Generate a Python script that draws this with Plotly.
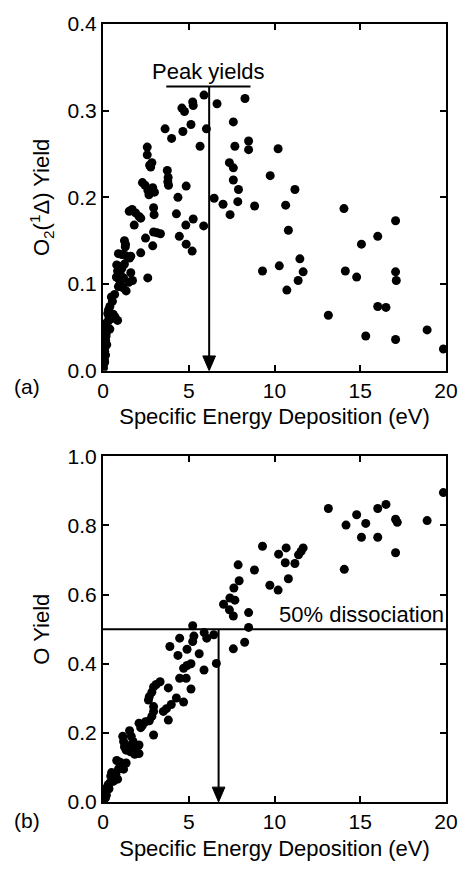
import plotly.graph_objects as go

# ---- (a) singlet oxygen yield vs. specific energy deposition ----
energy_a = [
    5.89, 6.65, 8.28, 5.23, 5.26, 4.60, 4.75, 5.13, 4.66, 6.03, 3.62, 4.00, 5.66, 7.60, 7.69,
    8.49, 8.49, 10.21, 7.37, 7.60, 7.60, 7.90, 9.75, 11.19,
    2.58, 2.58, 2.72, 2.85, 2.78, 3.75, 3.80, 3.82, 3.78,
    2.30, 2.45, 2.62, 2.90, 3.00, 2.68,
    4.37, 4.85, 6.48, 7.00, 7.86, 7.41, 8.84, 10.65, 14.05, 17.06, 16.02, 15.07, 10.81,
    11.48, 10.28, 9.30, 11.67, 11.38, 10.72, 14.13, 14.79, 17.06, 17.10, 13.14, 16.02,
    16.50, 15.32, 17.06, 18.90, 19.85,
    4.28, 5.26, 4.83, 5.87, 4.45, 4.85, 5.20,
    2.95, 3.15, 3.35, 2.95, 2.98, 2.90, 2.48, 2.20, 2.61,
    1.53, 1.70, 1.90, 2.10, 2.20, 1.82,
    1.25, 1.31, 1.30,
    0.90, 1.10, 1.30, 1.55, 1.62,
    0.80, 0.95, 1.10, 1.25, 1.62, 0.85, 1.00,
    0.78, 0.95, 1.20, 1.50, 1.72, 1.00, 1.15, 1.35, 0.90,
    0.68, 0.49, 0.55, 0.40, 0.32, 0.60, 0.85, 0.70, 0.50, 0.28,
    0.30, 0.25, 0.40, 0.20, 0.18, 0.15, 0.22, 0.12, 0.10, 0.15, 0.08, 0.05, 0.03, 0.10,
    0.20, 0.35,
]
yield_a = [
    0.318, 0.308, 0.314, 0.310, 0.306, 0.303, 0.299, 0.284, 0.276, 0.279, 0.279, 0.268, 0.259, 0.287, 0.259,
    0.265, 0.255, 0.256, 0.240, 0.234, 0.220, 0.209, 0.225, 0.209,
    0.258, 0.249, 0.237, 0.240, 0.235, 0.231, 0.223, 0.214, 0.218,
    0.217, 0.214, 0.208, 0.211, 0.206, 0.203,
    0.200, 0.213, 0.199, 0.192, 0.195, 0.180, 0.190, 0.191, 0.187, 0.173, 0.155, 0.146, 0.162,
    0.129, 0.121, 0.115, 0.114, 0.104, 0.093, 0.115, 0.108, 0.114, 0.104, 0.064, 0.074,
    0.073, 0.040, 0.036, 0.047, 0.025,
    0.181, 0.175, 0.168, 0.167, 0.155, 0.146, 0.138,
    0.160, 0.159, 0.158, 0.188, 0.180, 0.144, 0.153, 0.136, 0.107,
    0.184, 0.186, 0.182, 0.178, 0.176, 0.168,
    0.150, 0.146, 0.143,
    0.135, 0.134, 0.133, 0.130, 0.132,
    0.122, 0.120, 0.118, 0.123, 0.113, 0.115, 0.112,
    0.108, 0.105, 0.107, 0.102, 0.104, 0.100, 0.096, 0.092, 0.097,
    0.088, 0.085, 0.080, 0.074, 0.070, 0.065, 0.058, 0.062, 0.060, 0.066,
    0.057, 0.050, 0.048, 0.044, 0.040, 0.035, 0.030, 0.027, 0.022, 0.018, 0.013, 0.008, 0.003, 0.010,
    0.055, 0.062,
]

# ---- (b) atomic oxygen yield vs. specific energy deposition ----
energy_b = [
    19.85, 13.14, 14.17, 14.79, 15.32, 15.07, 16.02, 16.50, 16.02, 17.06, 17.16, 17.06, 18.90, 14.07,
    9.30, 10.24, 10.68, 10.63, 10.81, 9.73, 10.21, 11.19, 11.40, 11.55, 11.67, 8.83, 7.88, 7.94,
    7.63, 7.40, 7.69, 7.03, 7.37, 7.60, 8.49, 8.49, 8.26, 7.60,
    5.23, 4.47, 3.90, 5.23, 5.90, 6.05, 6.46, 6.61,
    4.90, 4.37, 5.61, 5.30,
    4.70, 4.90, 5.13, 5.89, 4.47, 4.85, 5.13, 3.81, 3.33,
    3.10, 2.95, 2.85, 2.70, 2.65, 4.28, 4.70, 3.98, 3.70, 3.52, 3.81,
    2.95, 2.95, 2.85, 2.70, 2.95,
    2.10, 2.30, 2.48, 2.20,
    1.55, 1.65, 1.75, 1.50, 1.90, 2.10, 1.60, 1.85, 2.10,
    1.15, 1.20, 1.25, 1.35,
    0.80, 1.00, 1.35, 1.15, 0.90, 1.20, 1.00,
    0.45, 0.65, 0.85, 0.60, 0.75,
    0.30, 0.20, 0.35, 0.10, 0.20, 0.05, 0.15, 0.40, 0.50,
]
yield_b = [
    0.895, 0.849, 0.801, 0.831, 0.806, 0.766, 0.849, 0.861, 0.766, 0.818, 0.809, 0.721, 0.814, 0.673,
    0.740, 0.717, 0.735, 0.692, 0.646, 0.627, 0.613, 0.690, 0.715, 0.725, 0.735, 0.671, 0.686, 0.640,
    0.619, 0.590, 0.584, 0.572, 0.556, 0.538, 0.548, 0.505, 0.462, 0.443,
    0.510, 0.474, 0.450, 0.464, 0.490, 0.474, 0.484, 0.401,
    0.442, 0.424, 0.429, 0.480,
    0.387, 0.395, 0.400, 0.382, 0.358, 0.358, 0.327, 0.330, 0.348,
    0.340, 0.333, 0.318, 0.305, 0.295, 0.301, 0.289, 0.282, 0.270, 0.262, 0.237,
    0.276, 0.262, 0.248, 0.235, 0.194,
    0.228, 0.222, 0.232, 0.215,
    0.206, 0.190, 0.175, 0.162, 0.158, 0.165, 0.145, 0.138, 0.140,
    0.190, 0.175, 0.160, 0.150,
    0.120, 0.115, 0.113, 0.105, 0.095, 0.095, 0.105,
    0.075, 0.070, 0.066, 0.060, 0.080,
    0.050, 0.040, 0.038, 0.025, 0.020, 0.008, 0.012, 0.055, 0.085,
]

# Guide annotations
peak_energy = 6.19          # energy of the peak O2(a) yield
peak_bar = [3.69, 8.60]     # extent of the peak-yield bar (eV)
peak_level = 0.328
half_energy = 6.74          # energy at 50 % dissociation
half_level = 0.5

FONT = "Liberation Sans, Arial, sans-serif"
FS = 22       # titles and annotations
TICK_FS = 21  # tick labels
BLACK = "black"

fig = go.Figure()
fig.add_trace(go.Scatter(x=energy_a, y=yield_a, mode="markers", xaxis="x", yaxis="y",
                         marker=dict(color=BLACK, size=9, line=dict(width=0)), showlegend=False))
fig.add_trace(go.Scatter(x=energy_b, y=yield_b, mode="markers", xaxis="x2", yaxis="y2",
                         marker=dict(color=BLACK, size=9, line=dict(width=0)), showlegend=False))

axis_common = dict(showline=True, linewidth=2, linecolor=BLACK, mirror="ticks",
                   ticks="inside", ticklen=6, tickwidth=2, tickcolor=BLACK,
                   showgrid=False, zeroline=False,
                   tickfont=dict(family=FONT, size=TICK_FS, color=BLACK))

xtitle = dict(text="Specific Energy Deposition (eV)", font=dict(family=FONT, size=FS, color=BLACK), standoff=8)

fig.update_layout(
    width=470, height=869,
    margin=dict(l=103, r=15, t=19, b=60),
    plot_bgcolor="white", paper_bgcolor="white",
    xaxis=dict(domain=[0, 1], anchor="y", range=[0, 20], tickvals=[0, 5, 10, 15, 20],
               title=xtitle, **axis_common),
    yaxis=dict(domain=[0.5544, 1], anchor="x", range=[0, 0.4], tickvals=[0, 0.1, 0.2, 0.3, 0.4],
               tickformat=".1f",
               title=dict(text="O<sub>2</sub>(<sup>1</sup>Δ) Yield",
                          font=dict(family=FONT, size=FS, color=BLACK), standoff=12),
               **axis_common),
    xaxis2=dict(domain=[0, 1], anchor="y2", range=[0, 20], tickvals=[0, 5, 10, 15, 20],
                title=xtitle, **axis_common),
    yaxis2=dict(domain=[0, 0.4443], anchor="x2", range=[0, 1.0], tickvals=[0, 0.2, 0.4, 0.6, 0.8, 1.0],
                tickformat=".1f",
                title=dict(text="O Yield", font=dict(family=FONT, size=FS, color=BLACK), standoff=12),
                **axis_common),
)

line_style = dict(color=BLACK, width=2)
head_w_a, head_h_a = 0.37, 0.017
head_w_b, head_h_b = 0.37, 0.043
fig.update_layout(shapes=[
    # (a) peak-yield bar and arrow
    dict(type="line", xref="x", yref="y", x0=peak_bar[0], x1=peak_bar[1], y0=peak_level, y1=peak_level, line=line_style),
    dict(type="line", xref="x", yref="y", x0=peak_energy, x1=peak_energy, y0=peak_level, y1=head_h_a, line=line_style),
    dict(type="path", xref="x", yref="y", fillcolor=BLACK, line=dict(color=BLACK, width=1),
         path=f"M {peak_energy - head_w_a},{head_h_a} L {peak_energy + head_w_a},{head_h_a} L {peak_energy},0 Z"),
    # (b) 50% dissociation line and arrow
    dict(type="line", xref="x2", yref="y2", x0=0, x1=20, y0=half_level, y1=half_level, line=line_style),
    dict(type="line", xref="x2", yref="y2", x0=half_energy, x1=half_energy, y0=half_level, y1=head_h_b, line=line_style),
    dict(type="path", xref="x2", yref="y2", fillcolor=BLACK, line=dict(color=BLACK, width=1),
         path=f"M {half_energy - head_w_b},{head_h_b} L {half_energy + head_w_b},{head_h_b} L {half_energy},0 Z"),
])

txt = dict(family=FONT, size=FS, color=BLACK)
fig.update_layout(annotations=[
    dict(text="Peak yields", x=sum(peak_bar) / 2, y=peak_level, xref="x", yref="y",
         xanchor="center", yanchor="bottom", showarrow=False, font=txt),
    dict(text="50% dissociation", x=20, y=half_level, xref="x2", yref="y2",
         xanchor="right", yanchor="bottom", showarrow=False, font=txt),
    dict(text="(a)", x=-0.223, y=0.534, xref="paper", yref="paper",
         xanchor="center", yanchor="middle", showarrow=False, font=dict(family=FONT, size=TICK_FS, color=BLACK)),
    dict(text="(b)", x=-0.223, y=-0.024, xref="paper", yref="paper",
         xanchor="center", yanchor="middle", showarrow=False, font=dict(family=FONT, size=TICK_FS, color=BLACK)),
])

fig.write_html("out.html")
